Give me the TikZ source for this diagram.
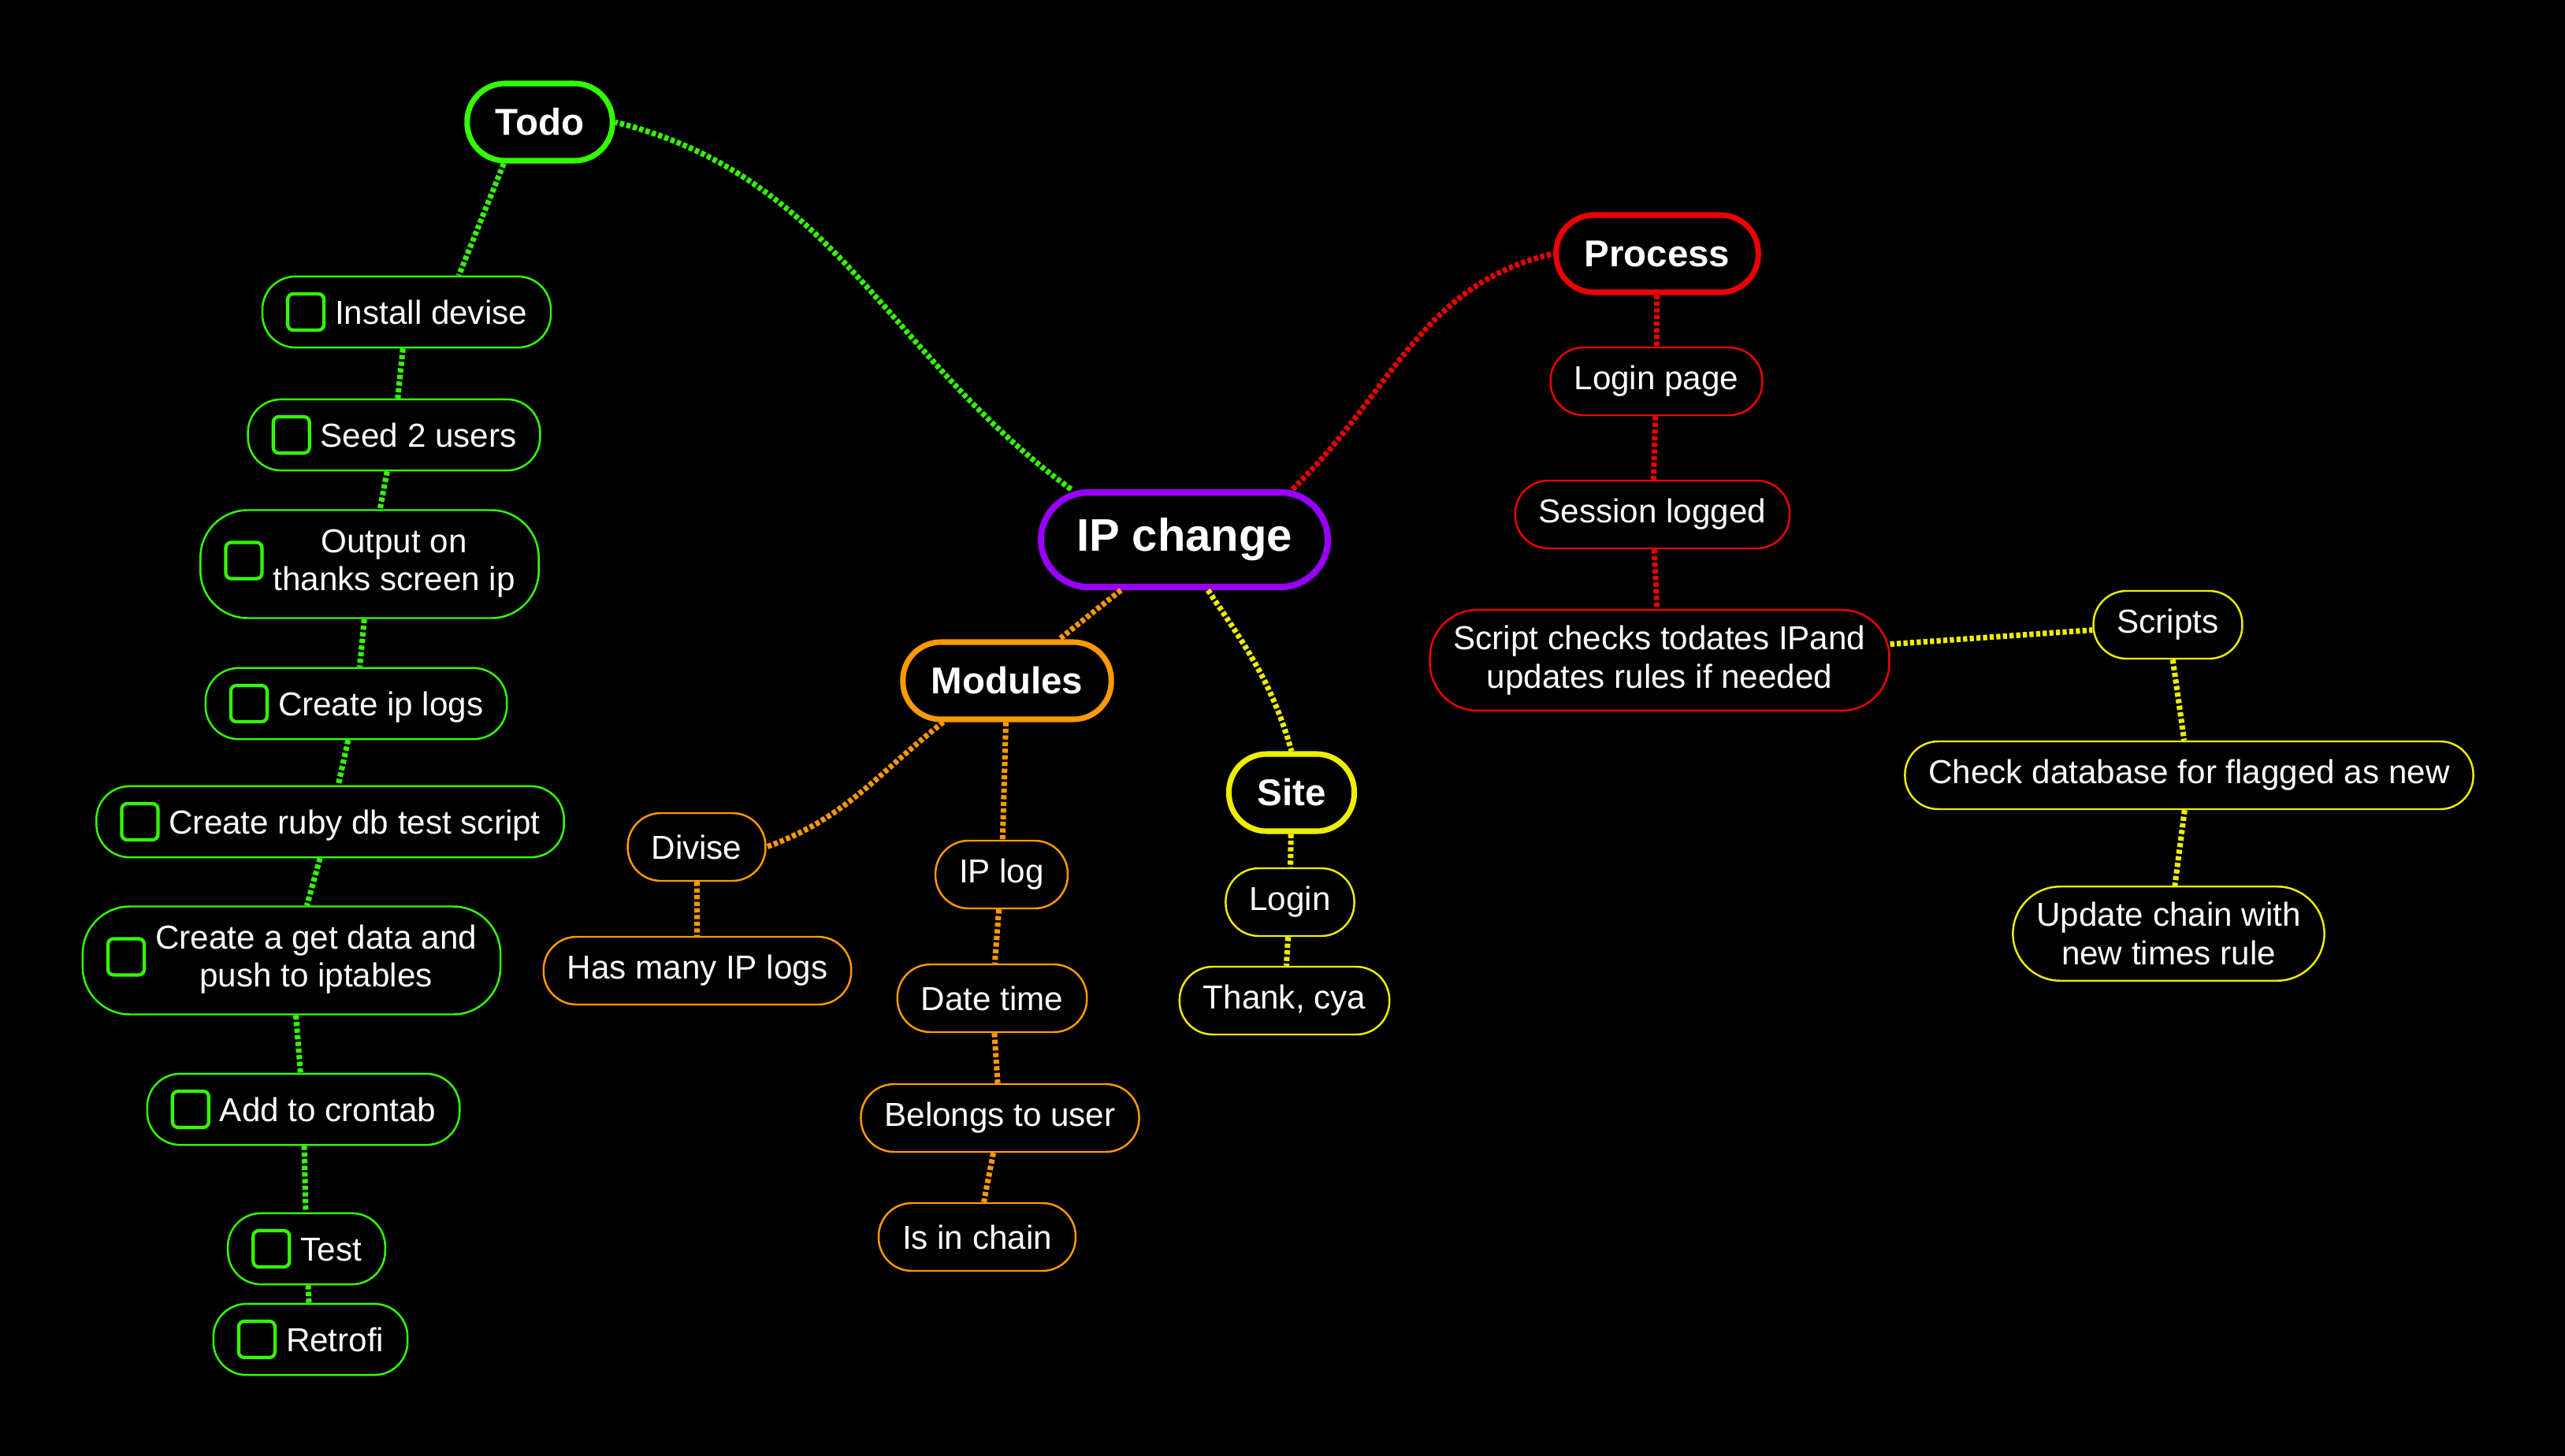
\documentclass[tikz,border=0pt]{standalone}
\usepackage{fontspec}
\setmainfont{Liberation Sans}
\usepackage{tikz}
\usetikzlibrary{positioning}

\definecolor{todogreen}{HTML}{33FF00}
\definecolor{procred}{HTML}{EE0000}
\definecolor{modorange}{HTML}{FF9900}
\definecolor{siteyellow}{HTML}{EEEE00}
\definecolor{rootpurple}{HTML}{9900FF}

\newcommand\chkbox{\tikz[baseline=-4.3pt]\draw[todogreen, fill=none, line width=1.2pt, rounded corners=0.07cm] (0,-0.23) rectangle (0.46,0.23);}

\begin{document}
\begin{tikzpicture}[
  root/.style={draw=rootpurple, fill=black, line width=2.3pt, rounded corners=0.6cm, minimum height=1.2cm, inner xsep=0.45cm, text=white, font=\fontsize{16.5}{20}\selectfont\bfseries},
  topic/.style={draw=#1, fill=black, line width=2pt, rounded corners=0.48cm, minimum height=0.98cm, inner xsep=0.36cm, text=white, font=\fontsize{13.5}{16}\selectfont\bfseries},
  mapitem/.style={draw=#1, fill=black, line width=0.7pt, rounded corners=0.42cm, minimum height=0.86cm, inner xsep=0.3cm, inner ysep=0.2cm, text=white, align=center, font=\fontsize{12}{13.8}\selectfont},
  twoline/.style={rounded corners=0.6cm},
  link/.style={draw=#1, line width=2pt, dash pattern=on 1.5pt off 0.9pt},
]
\fill[black] (0,0) rectangle (32.55,-18.48);

% centre and main branches
\node[root] (root) at (15.03,-6.85) {IP change};
\node[topic=todogreen] (todo) at (6.85,-1.55) {Todo};
\node[topic=procred] (process) at (21.03,-3.22) {Process};
\node[topic=modorange] (modules) at (12.78,-8.64) {Modules};
\node[topic=siteyellow] (site) at (16.39,-10.06) {Site};

% todo list
\node[mapitem=todogreen] (install) at (5.16,-3.96) {\chkbox\hspace{0.12cm}Install devise};
\node[mapitem=todogreen] (seed) at (5.00,-5.52) {\chkbox\hspace{0.12cm}Seed 2 users};
\node[mapitem=todogreen, twoline] (output) at (4.69,-7.16) {\chkbox\hspace{0.12cm}\begin{tabular}{@{}c@{}}Output on\\thanks screen ip\end{tabular}};
\node[mapitem=todogreen] (iplogs) at (4.52,-8.93) {\chkbox\hspace{0.12cm}Create ip logs};
\node[mapitem=todogreen] (rubydb) at (4.19,-10.43) {\chkbox\hspace{0.12cm}Create ruby db test script};
\node[mapitem=todogreen, twoline] (getdata) at (3.70,-12.19) {\chkbox\hspace{0.12cm}\begin{tabular}{@{}c@{}}Create a get data and\\push to iptables\end{tabular}};
\node[mapitem=todogreen] (crontab) at (3.85,-14.08) {\chkbox\hspace{0.12cm}Add to crontab};
\node[mapitem=todogreen] (test) at (3.89,-15.85) {\chkbox\hspace{0.12cm}Test};
\node[mapitem=todogreen] (retrofi) at (3.94,-17.00) {\chkbox\hspace{0.12cm}Retrofi};

% process
\node[mapitem=procred] (loginpage) at (21.02,-4.84) {Login page};
\node[mapitem=procred] (session) at (20.97,-6.53) {Session logged};
\node[mapitem=procred, twoline] (scriptchk) at (21.06,-8.38) {Script checks todates IPand\\updates rules if needed};
\node[mapitem=siteyellow] (scripts) at (27.51,-7.93) {Scripts};
\node[mapitem=siteyellow] (checkdb) at (27.78,-9.84) {Check database for flagged as new};
\node[mapitem=siteyellow, twoline] (updchain) at (27.52,-11.85) {Update chain with\\new times rule};

% modules
\node[mapitem=modorange] (divise) at (8.84,-10.75) {Divise};
\node[mapitem=modorange] (hasmany) at (8.85,-12.32) {Has many IP logs};
\node[mapitem=modorange] (iplog) at (12.71,-11.10) {IP log};
\node[mapitem=modorange] (datetime) at (12.59,-12.67) {Date time};
\node[mapitem=modorange] (belongs) at (12.69,-14.19) {Belongs to user};
\node[mapitem=modorange] (inchain) at (12.40,-15.70) {Is in chain};

% site
\node[mapitem=siteyellow] (login) at (16.37,-11.45) {Login};
\node[mapitem=siteyellow] (thank) at (16.30,-12.70) {Thank, cya};

% connectors
\draw[link=todogreen] (root.156) to[out=144, in=-14] (todo.east);
\draw[link=procred] (root.25) to[out=44, in=193] (process.west);
\draw[link=modorange] (root) -- (modules);
\draw[link=siteyellow] (root.-65) to[out=-56, in=106] (site.north);

\draw[link=todogreen] (todo.229) -- (install.35);
\draw[link=todogreen] (install) -- (seed);
\draw[link=todogreen] (seed) -- (output);
\draw[link=todogreen] (output) -- (iplogs);
\draw[link=todogreen] (iplogs) -- (rubydb);
\draw[link=todogreen] (rubydb) -- (getdata);
\draw[link=todogreen] (getdata) -- (crontab);
\draw[link=todogreen] (crontab) -- (test);
\draw[link=todogreen] (test) -- (retrofi);

\draw[link=procred] (process) -- (loginpage);
\draw[link=procred] (loginpage) -- (session);
\draw[link=procred] (session) -- (scriptchk);
\draw[link=siteyellow] (scriptchk) -- (scripts);
\draw[link=siteyellow] (scripts) -- (checkdb);
\draw[link=siteyellow] (checkdb) -- (updchain);

\draw[link=modorange] (modules.213) to[out=218, in=20] (divise.east);
\draw[link=modorange] (divise) -- (hasmany);
\draw[link=modorange] (modules) -- (iplog);
\draw[link=modorange] (iplog) -- (datetime);
\draw[link=modorange] (datetime) -- (belongs);
\draw[link=modorange] (belongs) -- (inchain);

\draw[link=siteyellow] (site) -- (login);
\draw[link=siteyellow] (login) -- (thank);
\end{tikzpicture}
\end{document}
